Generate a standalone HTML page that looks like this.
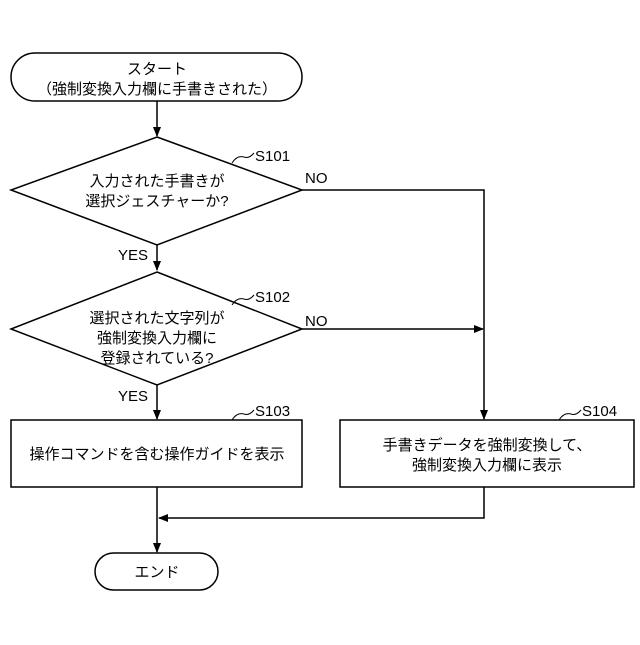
<!DOCTYPE html>
<html><head><meta charset="utf-8"><style>
body{margin:0;background:#fff}
svg text{font-family:"Liberation Sans","Noto Sans CJK JP",sans-serif;font-size:15px;fill:#000}
</style></head><body>
<svg width="640" height="640" viewBox="0 0 640 640" xmlns="http://www.w3.org/2000/svg">
<defs><marker id="a" markerWidth="10" markerHeight="10" refX="9" refY="5" orient="auto" markerUnits="userSpaceOnUse"><path d="M0,1 L10,5 L0,9 Z" fill="#000"/></marker></defs>
<g fill="none" stroke="#000" stroke-width="1.5">
<rect x="11" y="53" width="291" height="48" rx="24"/>
<path d="M157,101 V136" marker-end="url(#a)"/>
<path d="M157,137 L302,190 L157,245 L11,190 Z"/>
<path d="M302,190 H484 V419" marker-end="url(#a)"/>
<path d="M157,245 V270" marker-end="url(#a)"/>
<path d="M157,272 L302,329 L157,385 L11,329 Z"/>
<path d="M302,329 H483" marker-end="url(#a)"/>
<path d="M157,385 V419" marker-end="url(#a)"/>
<rect x="11" y="420" width="291" height="67"/>
<rect x="340" y="420" width="294" height="67"/>
<path d="M484,487 V518 H159" marker-end="url(#a)"/>
<path d="M157,487 V552" marker-end="url(#a)"/>
<rect x="95" y="553" width="123" height="37" rx="18.5"/>
<path d="M232,163 q5,-8 12,-6 q5,2 10,-4" stroke-width="1"/>
<path d="M232,305 q5,-8 12,-6 q5,2 10,-4" stroke-width="1"/>
<path d="M232,420 q5,-8 12,-6 q5,2 10,-4" stroke-width="1"/>
<path d="M559,420 q5,-8 12,-6 q5,2 10,-4" stroke-width="1"/>
</g>
<g text-anchor="middle">
<text x="157" y="74">スタート</text>
<text x="157" y="94">（強制変換入力欄に手書きされた）</text>
<text x="157" y="186">入力された手書きが</text>
<text x="157" y="206">選択ジェスチャーか?</text>
<text x="157" y="323">選択された文字列が</text>
<text x="157" y="343">強制変換入力欄に</text>
<text x="157" y="363">登録されている?</text>
<text x="157" y="459">操作コマンドを含む操作ガイドを表示</text>
<text x="487" y="450">手書きデータを強制変換して、</text>
<text x="487" y="470">強制変換入力欄に表示</text>
<text x="157" y="577">エンド</text>
</g>
<text x="255" y="161">S101</text>
<text x="255" y="302">S102</text>
<text x="255" y="416">S103</text>
<text x="582" y="416">S104</text>
<text x="305" y="183">NO</text>
<text x="305" y="326">NO</text>
<text x="118" y="260">YES</text>
<text x="118" y="401">YES</text>
</svg>
</body></html>
